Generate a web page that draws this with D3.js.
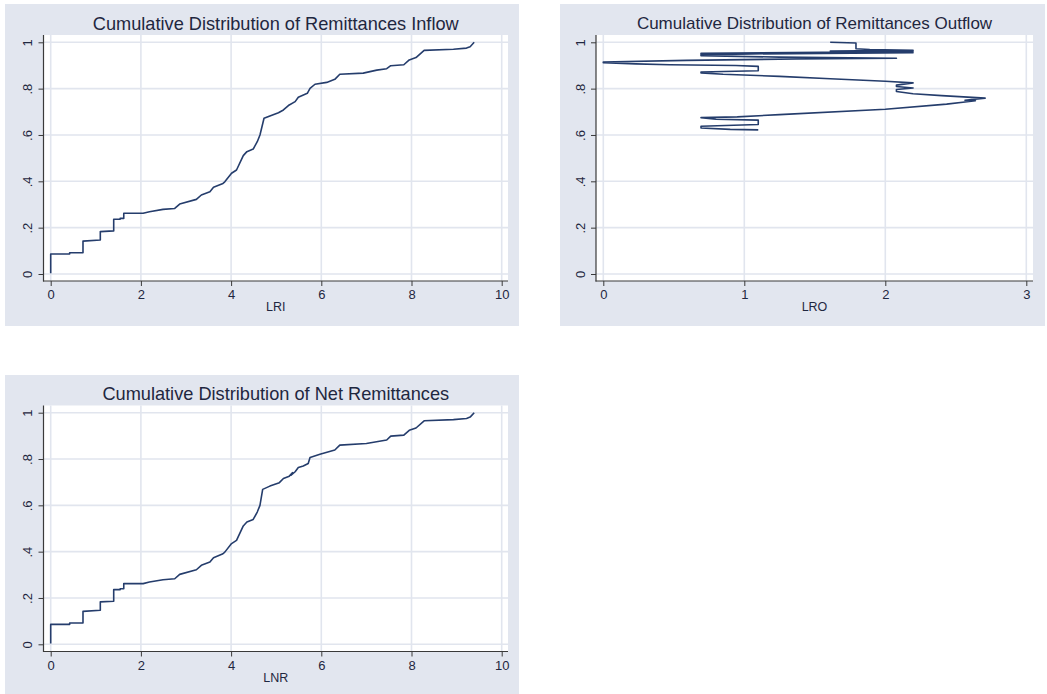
<!DOCTYPE html>
<html>
<head>
<meta charset="utf-8">
<script src="https://cdn.jsdelivr.net/npm/d3@7/dist/d3.min.js"></script>
<style>
  html, body { margin: 0; padding: 0; background: #ffffff; }
  svg { display: block; }
  text { font-family: "Liberation Sans", Arial, sans-serif; }
</style>
</head>
<body>
<svg id="chart" width="1047" height="694"></svg>
<script>
// ---- Data ----
const titles = [
  "Cumulative Distribution of Remittances Inflow",
  "Cumulative Distribution of Remittances Outflow",
  "Cumulative Distribution of Net Remittances"
];
const xTitles = ["LRI", "LRO", "LNR"];

const yTicks = [0, 0.2, 0.4, 0.6, 0.8, 1];
const yTickLabels = ["0", ".2", ".4", ".6", ".8", "1"];
const xTicksWide = [0, 2, 4, 6, 8, 10];
const xTicksNarrow = [0, 1, 2, 3];

// Remittances inflow (LRI) cumulative distribution
const LRI_x = [0,0,0.42,0.42,0.716,0.716,1.10,1.10,1.397,1.397,
  1.54,1.54,1.62,1.62,2.05,2.19,2.49,2.75,2.86,3.23,
  3.34,3.53,3.61,3.82,3.86,4.01,4.12,4.27,4.35,4.49,
  4.58,4.64,4.73,4.86,5.05,5.16,5.27,5.42,5.49,5.69,
  5.75,5.86,6.12,6.30,6.41,6.93,7.23,7.45,7.54,7.83,
  7.95,8.10,8.28,8.93,9.22,9.30,9.39];
const LRI_y = [0.003,0.086,0.086,0.092,0.092,0.142,0.147,0.183,0.186,0.236,
  0.236,0.240,0.240,0.262,0.262,0.269,0.279,0.283,0.302,0.322,
  0.341,0.355,0.374,0.391,0.398,0.435,0.449,0.511,0.528,0.539,
  0.571,0.600,0.672,0.682,0.696,0.708,0.727,0.744,0.763,0.780,
  0.801,0.819,0.827,0.840,0.862,0.867,0.880,0.886,0.899,0.903,
  0.924,0.934,0.965,0.970,0.975,0.981,1.0];

// Remittances outflow (LRO), drawn in data order
const LRO_x = [1.099,0.90,0.693,0.693,1.099,1.099,0.80,0.693,0.95,1.25,
  2.0,2.435,2.565,2.639,2.565,2.708,2.40,2.197,2.079,2.079,
  2.197,2.079,2.079,2.197,2.0,1.61,1.25,0.85,0.693,0.693,
  1.099,1.099,0.94,0.47,0.23,0,0,0.59,1.37,2.079,
  1.25,0.693,0.693,2.197,0.693,0.693,2.197,1.61,2.197,1.89,
  1.792,1.792,1.609];
const LRO_y = [0.622,0.624,0.630,0.638,0.645,0.664,0.668,0.675,0.678,0.688,
  0.711,0.733,0.742,0.748,0.750,0.759,0.770,0.778,0.788,0.796,
  0.803,0.809,0.815,0.825,0.832,0.843,0.853,0.862,0.868,0.872,
  0.877,0.896,0.900,0.903,0.907,0.912,0.915,0.922,0.928,0.931,
  0.936,0.942,0.947,0.955,0.950,0.953,0.960,0.962,0.965,0.969,
  0.972,0.997,1.0];

// Net remittances (LNR) cumulative distribution
const LNR_x = [0,0,0.42,0.42,0.716,0.716,1.10,1.10,1.397,1.397,
  1.54,1.54,1.62,1.62,2.05,2.19,2.49,2.75,2.86,3.23,
  3.34,3.53,3.61,3.82,3.86,4.01,4.12,4.27,4.35,4.49,
  4.58,4.64,4.70,4.86,5.07,5.16,5.29,5.36,5.33,5.42,
  5.49,5.60,5.71,5.75,5.97,6.30,6.41,7.0,7.45,7.54,
  7.83,7.95,8.10,8.28,8.93,9.22,9.30,9.39];
const LNR_y = [0.003,0.086,0.086,0.092,0.092,0.142,0.147,0.183,0.186,0.236,
  0.236,0.240,0.240,0.262,0.262,0.269,0.279,0.283,0.302,0.322,
  0.341,0.355,0.374,0.391,0.398,0.435,0.449,0.511,0.528,0.539,
  0.571,0.600,0.669,0.683,0.698,0.716,0.726,0.741,0.730,0.745,
  0.763,0.770,0.781,0.807,0.821,0.839,0.860,0.867,0.882,0.899,
  0.903,0.924,0.934,0.965,0.970,0.975,0.981,1.0];

// ---- Drawing ----
const BG = "#e2e6ef", GRID = "#e1e5ee", LINE = "#253d6c", INK = "#1f2740";
const svg = d3.select("#chart");

function panel(cfg) {
  const g = svg.append("g");
  // graph region
  g.append("rect").attr("x", cfg.bg[0]).attr("y", cfg.bg[1])
    .attr("width", cfg.bg[2] - cfg.bg[0]).attr("height", cfg.bg[3] - cfg.bg[1])
    .attr("fill", BG);
  // plot region
  const pl = cfg.plot;
  g.append("rect").attr("x", pl[0]).attr("y", pl[1])
    .attr("width", pl[2] - pl[0]).attr("height", pl[3] - pl[1])
    .attr("fill", "#ffffff");

  const x = d3.scaleLinear().domain(cfg.xDomain).range(cfg.xRange);
  const y = d3.scaleLinear().domain([0, 1]).range(cfg.yRange);

  // grid
  g.append("g").selectAll("line").data(yTicks).join("line")
    .attr("x1", pl[0]).attr("x2", pl[2])
    .attr("y1", d => y(d)).attr("y2", d => y(d))
    .attr("stroke", GRID).attr("stroke-width", 1.6);
  g.append("g").selectAll("line").data(cfg.xTicks).join("line")
    .attr("y1", pl[1]).attr("y2", pl[3])
    .attr("x1", d => x(d)).attr("x2", d => x(d))
    .attr("stroke", GRID).attr("stroke-width", 1.6);

  // axes
  const yAxis = d3.axisLeft(y).tickValues(yTicks)
    .tickFormat((d, i) => yTickLabels[i]).tickSize(5).tickPadding(6);
  const ya = g.append("g").attr("transform", `translate(${pl[0]},0)`).call(yAxis);
  ya.select(".domain").remove();
  ya.selectAll(".tick line").attr("stroke", "#3a3a3a");
  ya.selectAll(".tick text")
    .attr("x", null).attr("dy", null)
    .attr("text-anchor", "middle")
    .attr("transform", "translate(-11.5,0) rotate(-90)")
    .attr("font-size", 13).attr("fill", INK)
    .style("font-family", '"Liberation Sans", Arial, sans-serif');

  const xAxis = d3.axisBottom(x).tickValues(cfg.xTicks).tickSize(5).tickPadding(4)
    .tickFormat(d3.format("d"));
  const xa = g.append("g").attr("transform", `translate(0,${pl[3]})`).call(xAxis);
  xa.select(".domain").remove();
  xa.selectAll(".tick line").attr("stroke", "#3a3a3a");
  xa.selectAll(".tick text").attr("font-size", 13).attr("fill", INK)
    .style("font-family", '"Liberation Sans", Arial, sans-serif');

  g.append("line").attr("x1", pl[0]).attr("x2", pl[0]).attr("y1", pl[1]).attr("y2", pl[3] + 0.5)
    .attr("stroke", "#3a3a3a").attr("stroke-width", 1.2);
  g.append("line").attr("x1", pl[0] - 0.5).attr("x2", pl[2]).attr("y1", pl[3]).attr("y2", pl[3])
    .attr("stroke", "#3a3a3a").attr("stroke-width", 1.2);

  // series
  const pts = cfg.xs.map((v, i) => [v, cfg.ys[i]]);
  const line = d3.line().x(d => x(d[0])).y(d => y(d[1]));
  g.append("path").attr("d", line(pts)).attr("fill", "none")
    .attr("stroke", LINE).attr("stroke-width", 1.6).attr("stroke-linejoin", "round");

  // titles
  g.append("text").attr("x", (pl[0] + pl[2]) / 2).attr("y", cfg.titleY)
    .attr("text-anchor", "middle").attr("font-size", cfg.titleSize).attr("fill", INK)
    .text(cfg.title);
  g.append("text").attr("x", (pl[0] + pl[2]) / 2).attr("y", cfg.xTitleY)
    .attr("text-anchor", "middle").attr("font-size", 12.5).attr("fill", INK)
    .text(cfg.xTitle);
}

panel({
  bg: [5, 4, 519, 326], plot: [43.5, 35, 508, 281],
  xDomain: [0, 10], xRange: [50.7, 501.7], yRange: [274, 42.3],
  xTicks: xTicksWide, xs: LRI_x, ys: LRI_y, titleSize: 18.2,
  title: titles[0], xTitle: xTitles[0], titleY: 29.5, xTitleY: 311
});
panel({
  bg: [560, 4, 1045, 326], plot: [596, 35, 1033, 281],
  xDomain: [0, 3], xRange: [603.3, 1026.3], yRange: [274, 42.3],
  xTicks: xTicksNarrow, xs: LRO_x, ys: LRO_y, titleSize: 17,
  title: titles[1], xTitle: xTitles[1], titleY: 29, xTitleY: 311
});
panel({
  bg: [5, 375, 519, 694], plot: [43.5, 405.5, 508, 651.5],
  xDomain: [0, 10], xRange: [50.7, 501.7], yRange: [644.3, 412.7],
  xTicks: xTicksWide, xs: LNR_x, ys: LNR_y, titleSize: 18.2,
  title: titles[2], xTitle: xTitles[2], titleY: 400, xTitleY: 681.5
});
</script>
</body>
</html>
